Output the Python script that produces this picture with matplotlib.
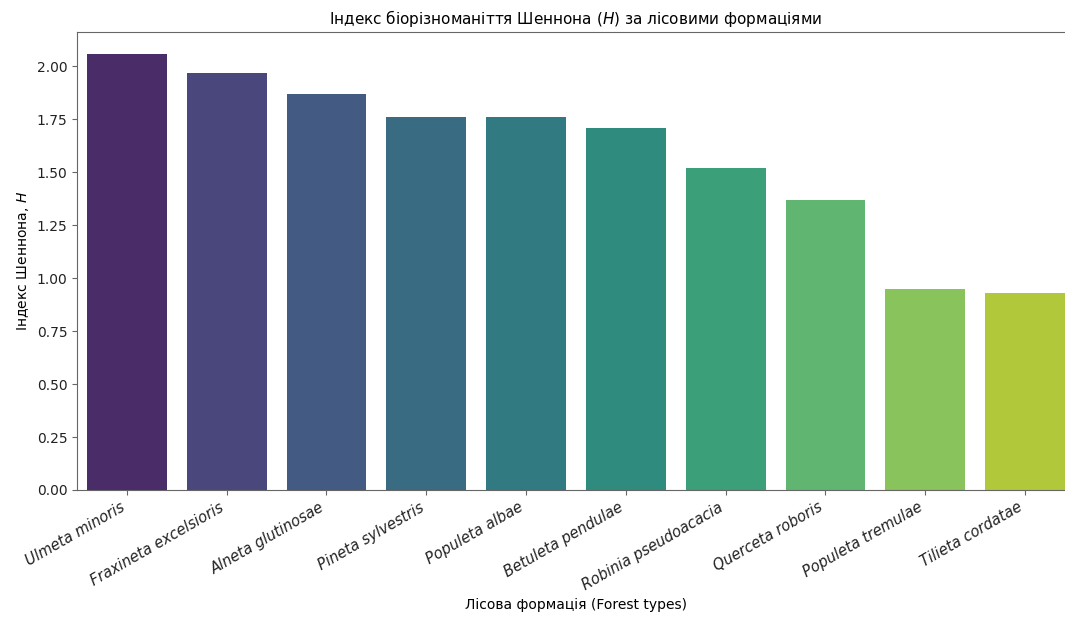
import matplotlib
matplotlib.use('Agg')
import seaborn as sns
from matplotlib import pyplot as plt

# Дані: індекс Шеннона по лісових формаціях
formations = ['Ulmeta minoris', 'Fraxineta excelsioris', 'Alneta glutinosae',
              'Pineta sylvestris', 'Populeta albae', 'Betuleta pendulae',
              'Robinia pseudoacacia', 'Querceta roboris', 'Populeta tremulae',
              'Tilieta cordatae']
shannon = [2.06, 1.97, 1.87, 1.76, 1.76, 1.71, 1.52, 1.37, 0.95, 0.93]

plt.rcParams['font.family'] = ['DejaVu Sans']

fig = plt.figure(figsize=(10.65, 6.21), dpi=100)
# вісь трохи виходить за правий край, як на оригіналі
ax = fig.add_axes([0.0723, 0.211, 0.937, 0.7375])

# палітра viridis з приглушенням як у seaborn barplot (saturation=0.75)
colors = [sns.desaturate(c, 0.75) for c in sns.color_palette('viridis', len(formations))]
ax.bar(range(len(formations)), shannon, width=0.8, color=colors)
ax.set_xlim(-0.5, len(formations) - 0.5)

ax.set_xticks(range(len(formations)))
ax.set_xticklabels(formations, rotation=30, ha='right', style='italic', fontsize=10.5)
ax.tick_params(axis='y', labelsize=10)
for s in ax.spines.values():
    s.set_color('#666666')
ax.tick_params(colors='#666666', labelcolor='#222222')

ax.set_title('Індекс біорізноманіття Шеннона ($\\it{H}$) за лісовими формаціями', fontsize=11)
ax.set_ylabel('Індекс Шеннона, $\\it{H}$', fontsize=10)
ax.set_xlabel('Лісова формація (Forest types)', fontsize=10)

fig.savefig('out.png', dpi=100)
